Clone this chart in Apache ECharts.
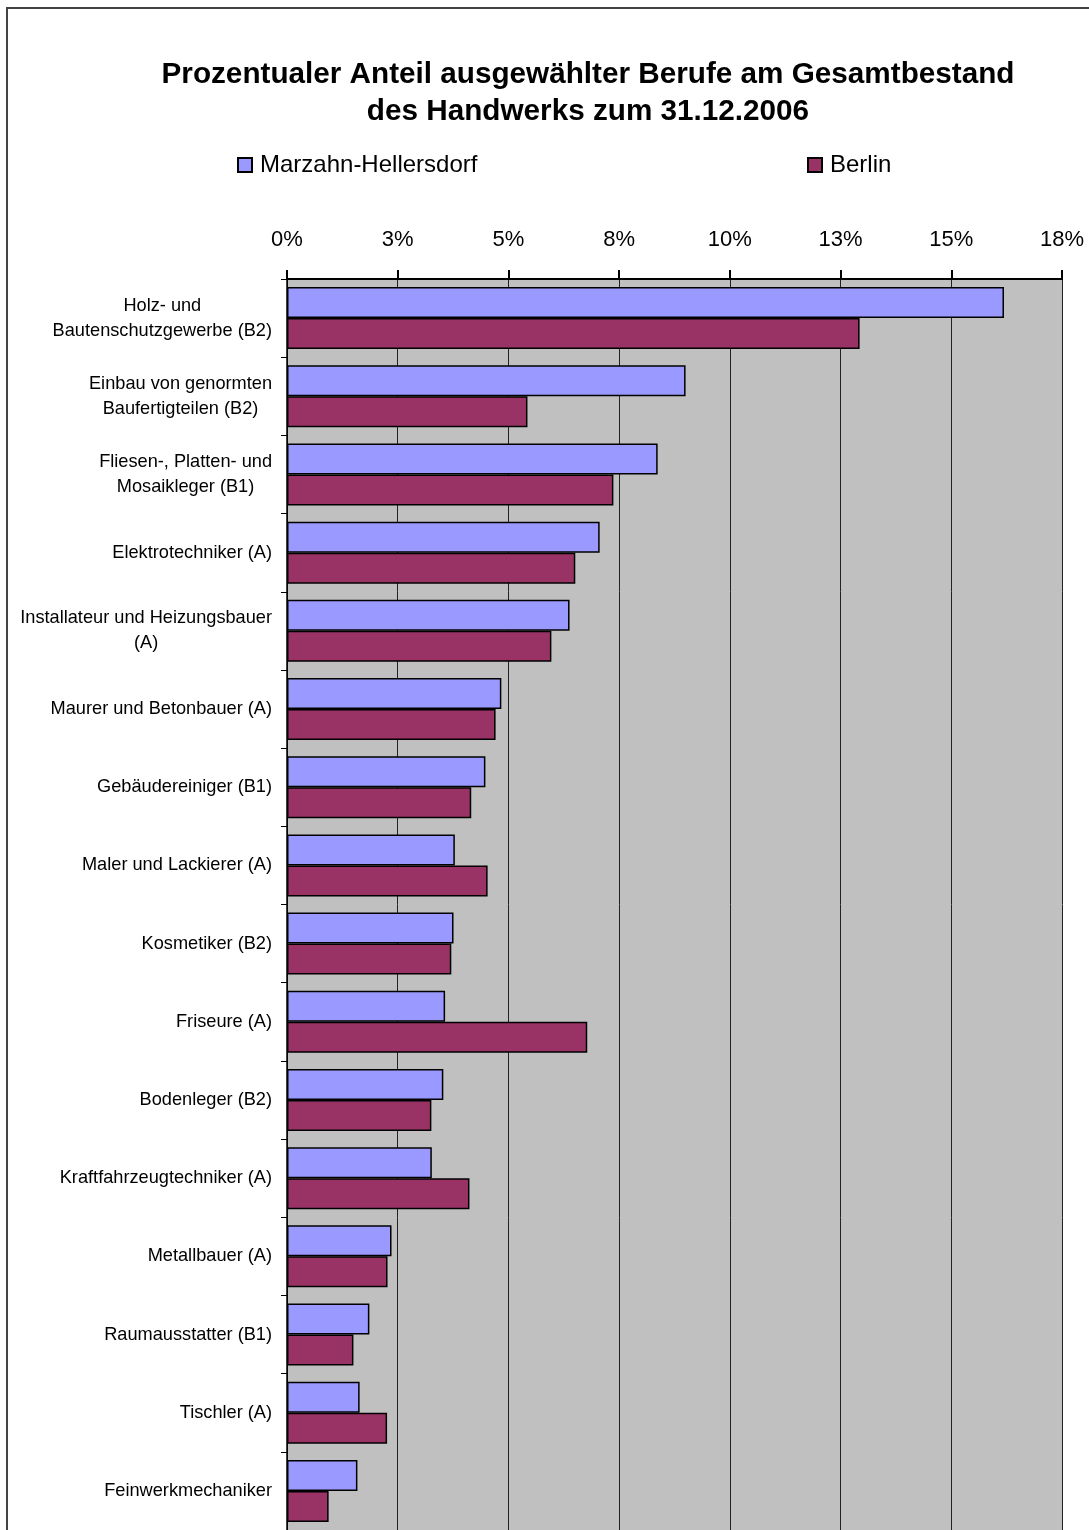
<!DOCTYPE html>
<html>
<head>
<meta charset="utf-8">
<title>Anteil ausgewählter Berufe am Handwerk 2006</title>
<script src="https://cdn.jsdelivr.net/npm/echarts@6/dist/echarts.min.js"></script>
<style>
html, body { margin: 0; padding: 0; background: #fff; }
#chart { width: 1089px; height: 1530px; }
</style>
</head>
<body>
<div id="chart"></div>
<script>
// Berufe, von oben nach unten
var berufe = [
  'Holz- und\nBautenschutzgewerbe (B2)',
  'Einbau von genormten\nBaufertigteilen (B2)',
  'Fliesen-, Platten- und\nMosaikleger (B1)',
  'Elektrotechniker (A)',
  'Installateur und Heizungsbauer\n(A)',
  'Maurer und Betonbauer (A)',
  'Gebäudereiniger (B1)',
  'Maler und Lackierer (A)',
  'Kosmetiker (B2)',
  'Friseure (A)',
  'Bodenleger (B2)',
  'Kraftfahrzeugtechniker (A)',
  'Metallbauer (A)',
  'Raumausstatter (B1)',
  'Tischler (A)',
  'Feinwerkmechaniker'
];
// Anteile in %
var marzahnHellersdorf = [16.19, 9.0, 8.37, 7.06, 6.38, 4.84, 4.48, 3.79, 3.76, 3.57, 3.53, 3.27, 2.36, 1.86, 1.64, 1.59];
var berlin = [12.93, 5.43, 7.37, 6.51, 5.97, 4.71, 4.16, 4.53, 3.71, 6.78, 3.26, 4.12, 2.27, 1.50, 2.26, 0.94];
// Achse: 0 .. 17,5 in Schritten von 2,5 (Beschriftung gerundet)
var achseMin = 0;
var achseMax = 17.5;
var achseSchritt = 2.5;

var schrift = '"Liberation Sans", Arial, sans-serif';

var chart = echarts.init(document.getElementById('chart'));

var option = {
  backgroundColor: '#fff',
  animation: false,
  title: {
    text: 'Prozentualer Anteil ausgewählter Berufe am Gesamtbestand\ndes Handwerks zum 31.12.2006',
    left: 588,
    textAlign: 'center',
    top: 56,
    padding: 0,
    textStyle: {
      fontFamily: schrift,
      fontSize: 29.7,
      fontWeight: 'bold',
      lineHeight: 37,
      color: '#000'
    }
  },
  // zwei Legenden, weil die Einträge weit auseinander stehen
  legend: [{
    data: ['Marzahn-Hellersdorf'],
    left: 237,
    top: 153,
    padding: 0,
    itemWidth: 14,
    itemHeight: 14,
    icon: 'rect',
    textStyle: { fontFamily: schrift, fontSize: 24, color: '#000', padding: [0, 0, 0, 3] }
  }, {
    data: ['Berlin'],
    left: 807,
    top: 153,
    padding: 0,
    itemWidth: 14,
    itemHeight: 14,
    icon: 'rect',
    textStyle: { fontFamily: schrift, fontSize: 24, color: '#000', padding: [0, 0, 0, 3] }
  }],
  graphic: [{
    type: 'rect',
    z: -10,
    shape: { x: 7, y: 8, width: 1200, height: 1700 },
    style: { fill: 'none', stroke: '#444', lineWidth: 2 }
  }],
  grid: {
    left: 287,
    right: 27,
    top: 279,
    height: 1256,
    show: true,
    backgroundColor: '#c0c0c0',
    borderWidth: 0
  },
  xAxis: {
    type: 'value',
    position: 'top',
    min: achseMin,
    max: achseMax,
    interval: achseSchritt,
    axisLine: { show: true, lineStyle: { color: '#000', width: 2 } },
    axisTick: { show: true, length: 9, lineStyle: { color: '#000', width: 2 } },
    axisLabel: {
      margin: 28,
      fontFamily: schrift,
      fontSize: 22,
      color: '#000',
      formatter: function (v) { return Math.round(v) + '%'; }
    },
    splitLine: { show: true, lineStyle: { color: '#222', width: 1 } }
  },
  yAxis: {
    type: 'category',
    inverse: true,
    data: berufe,
    axisLine: { show: true, lineStyle: { color: '#000', width: 1.5 } },
    axisTick: { show: true, length: 6, lineStyle: { color: '#000', width: 1 } },
    axisLabel: {
      margin: 15,
      fontFamily: schrift,
      fontSize: 18.2,
      lineHeight: 25,
      color: '#000',
      formatter: function (value) {
        // Zeilen untereinander zentrieren wie im Original
        return value.split('\n').map(function (z) { return '{z|' + z + '}'; }).join('\n');
      },
      rich: {
        z: { align: 'center', fontFamily: schrift, fontSize: 18.2, lineHeight: 25, color: '#000' }
      }
    },
    splitLine: { show: false }
  },
  series: [
    {
      name: 'Marzahn-Hellersdorf',
      type: 'bar',
      data: marzahnHellersdorf,
      barWidth: 31,
      barGap: '0%',
      itemStyle: { color: '#9999ff', borderColor: '#000', borderWidth: 1.5 }
    },
    {
      name: 'Berlin',
      type: 'bar',
      data: berlin,
      barWidth: 31,
      barGap: '0%',
      itemStyle: { color: '#993366', borderColor: '#000', borderWidth: 1.5 }
    }
  ]
};

chart.setOption(option);
</script>
</body>
</html>
